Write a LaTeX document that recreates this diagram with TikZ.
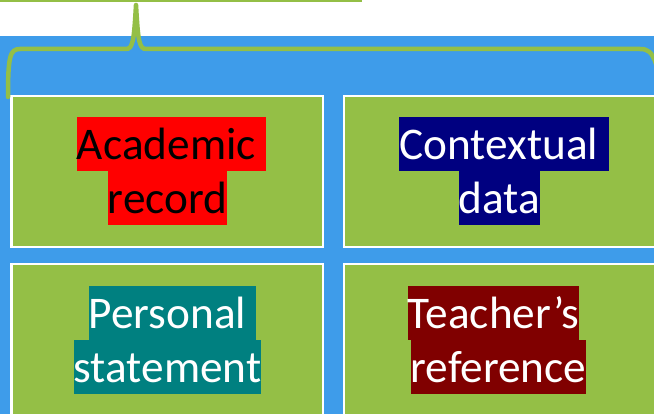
\documentclass[tikz,border=0pt]{standalone}
\usepackage{fontspec}
\setmainfont{Carlito}
\definecolor{bgblue}{RGB}{62,156,234}
\definecolor{cellgreen}{RGB}{148,191,70}
\definecolor{hlnavy}{RGB}{0,0,128}
\definecolor{hlteal}{RGB}{0,128,128}
\definecolor{hlmaroon}{RGB}{128,0,0}
\newcommand{\trailsp}{\kern0.226em}
\tikzset{
  cell/.style={draw=white, line width=2.5pt, fill=cellgreen, inner sep=0pt},
  hl/.style={fill=#1, inner xsep=0pt, inner ysep=0pt, text height=43pt, text depth=11pt,
    anchor=base, font=\fontsize{45.3}{54}\selectfont},
  bracestyle/.style={draw=cellgreen, line width=4.5pt, line cap=round, line join=round}
}
\begin{document}
\begin{tikzpicture}[x=1pt,y=-1pt]
\useasboundingbox (0,0) rectangle (654,414);
\clip (0,0) rectangle (654,414);
\fill[white] (0,0) rectangle (654,414);
\fill[bgblue] (0,36) rectangle (654,414);
\draw[draw=cellgreen, line width=2.5pt] (0,1) -- (362,1);
% cells
\node[cell, minimum width=311.5pt, minimum height=151pt] (c1) at (167,171.5) {};
\node[cell, minimum width=326pt, minimum height=151pt] (c2) at (507,171.5) {};
\node[cell, minimum width=311.5pt, minimum height=170pt] (c3) at (167,349) {};
\node[cell, minimum width=326pt, minimum height=170pt] (c4) at (507,349) {};
% brace
\draw[bracestyle] (8,97) .. controls (8,56) and (10,49) .. (20,49) -- (126,49)
  .. controls (133,49) and (134,40) .. (136,5)
  .. controls (138,40) and (139,49) .. (146,49) -- (640,49)
  .. controls (648,49) and (652,52) .. (656,64);
% texts
\node[hl=red, text=black] (t1a) at (171.5,160) {Academic\trailsp};
\node[hl=red, text=black] (t1b) at (167.5,214) {record};
\node[hl=hlnavy, text=white] (t2a) at (504,160) {Contextual\trailsp};
\node[hl=hlnavy, text=white] (t2b) at (499.5,214) {data};
\node[hl=hlteal, text=white] (t3a) at (172.5,329) {Personal\trailsp};
\node[hl=hlteal, text=white] (t3b) at (167.5,383) {statement};
\node[hl=hlmaroon, text=white] (t4a) at (493.5,329) {Teacher’s};
\node[hl=hlmaroon, text=white] (t4b) at (498.5,383) {reference};
\end{tikzpicture}
\end{document}
